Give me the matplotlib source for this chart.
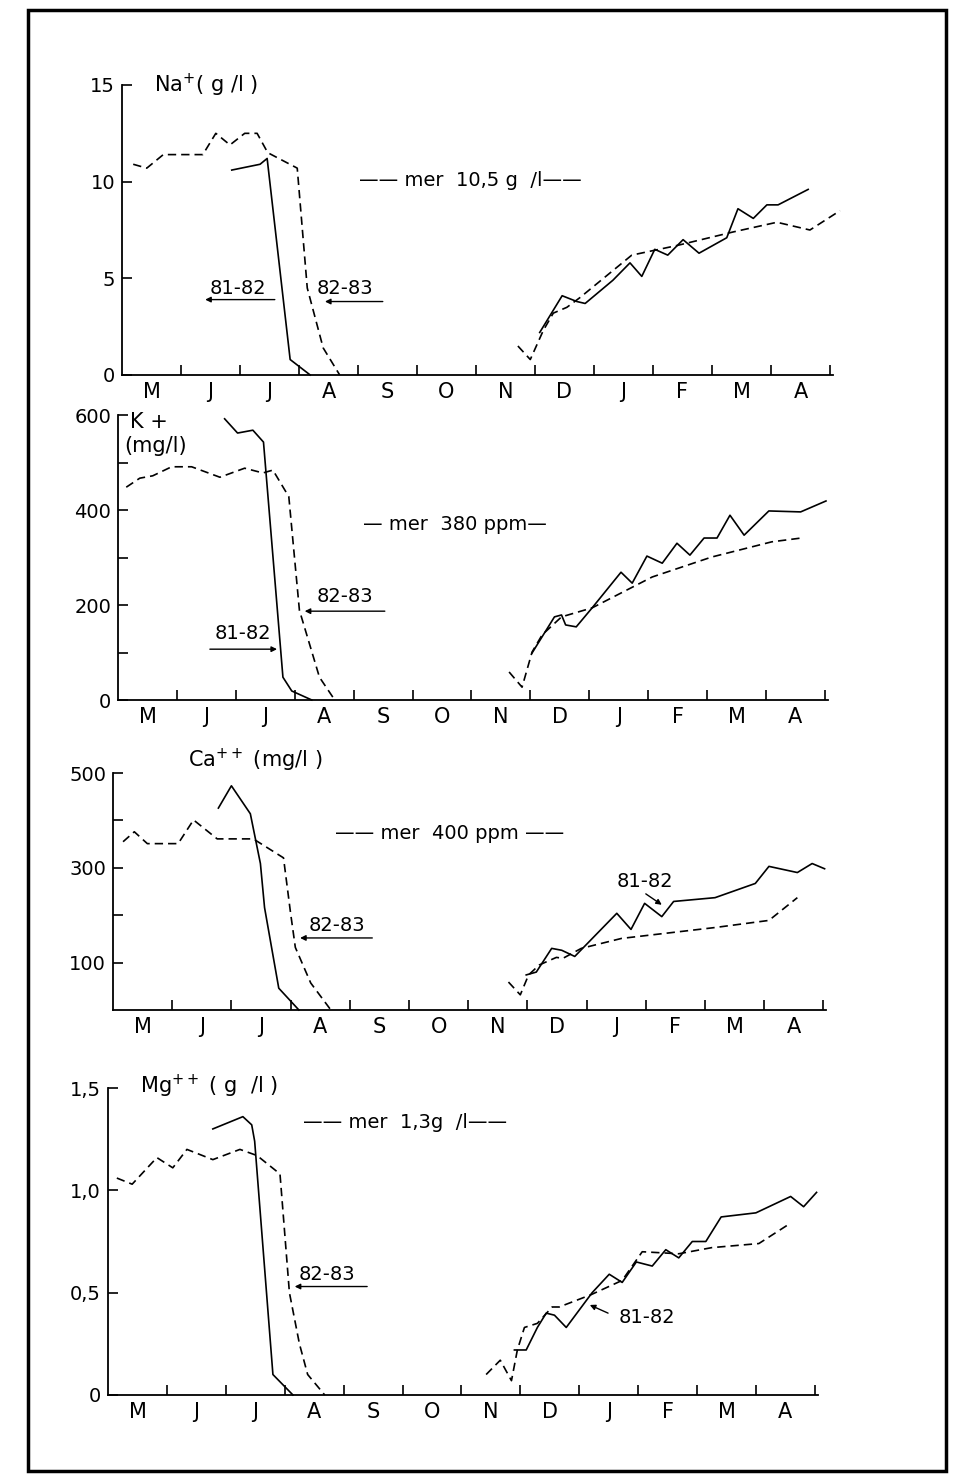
import numpy as np
import matplotlib
matplotlib.use("Agg")
import matplotlib.pyplot as plt
from matplotlib.patches import Rectangle

months = ["M", "J", "J", "A", "S", "O", "N", "D", "J", "F", "M", "A"]

# Na+ (g/l)
na_81_x = [1.86, 2.34, 2.46, 2.85, 3.19, np.nan,
           7.08, 7.46, 7.71, 7.85, 8.32, 8.61, 8.81, 9.03, 9.25, 9.51, 9.78,
           10.25, 10.44, 10.7, 10.93, 11.12, 11.63]
na_81_y = [10.6, 10.9, 11.2, 0.8, 0.0, np.nan,
           2.2, 4.1, 3.8, 3.7, 4.9, 5.8, 5.1, 6.5, 6.2, 7.0, 6.3,
           7.1, 8.6, 8.1, 8.8, 8.8, 9.6]
na_82_x = [0.19, 0.42, 0.70, 1.37, 1.59, 1.83, 2.08, 2.29, 2.47, 2.97, 3.14, 3.41, 3.69, np.nan,
           6.71, 6.92, 7.14, 7.31, 7.54, 7.76, 8.64, 9.41, 10.36, 11.1, 11.66, 12.17]
na_82_y = [10.9, 10.7, 11.4, 11.4, 12.5, 11.9, 12.5, 12.5, 11.5, 10.7, 4.5, 1.4, 0.0, np.nan,
           1.5, 0.8, 2.3, 3.2, 3.5, 4.0, 6.2, 6.7, 7.4, 7.9, 7.5, 8.5]

# K+ (mg/l)
k_81_x = [1.81, 2.03, 2.29, 2.47, 2.80, 2.95, 3.29, np.nan,
          7.03, 7.41, 7.53, 7.6, 7.78, 8.05, 8.54, 8.73, 8.98, 9.24, 9.49, 9.71,
          9.95, 10.17, 10.39, 10.63, 11.05, 11.59, 12.02]
k_81_y = [592, 562, 568, 543, 48, 19, 0, np.nan,
          99, 175, 179, 158, 154, 194, 269, 246, 303, 288, 330, 305,
          341, 341, 389, 347, 398, 396, 419]
k_82_x = [0.14, 0.37, 0.59, 0.91, 1.25, 1.73, 2.15, 2.46, 2.63, 2.90, 3.08, 3.42, 3.68, np.nan,
          6.64, 6.86, 7.03, 7.2, 7.53, 8.05, 9.07, 10.08, 11.1, 11.6]
k_82_y = [448, 467, 472, 491, 491, 469, 488, 478, 484, 428, 189, 48, 0, np.nan,
          59, 27, 101, 137, 175, 194, 259, 301, 333, 341]

# Ca++ (mg/l)
ca_81_x = [1.78, 2.0, 2.32, 2.49, 2.56, 2.8, 3.14, np.nan,
           6.98, 7.15, 7.41, 7.58, 7.8, 8.51, 8.75, 8.98, 9.27, 9.47, 10.17,
           10.85, 11.08, 11.56, 11.81, 12.02]
ca_81_y = [426, 473, 414, 309, 216, 46, 0, np.nan,
           74, 80, 130, 126, 113, 204, 170, 225, 197, 229, 237,
           267, 303, 290, 309, 298]
ca_82_x = [0.17, 0.36, 0.58, 1.1, 1.36, 1.76, 2.37, 2.88, 3.0, 3.08, 3.34, 3.68, np.nan,
           6.68, 6.88, 7.02, 7.2, 7.49, 7.6, 7.91, 8.59, 10.17, 11.08, 11.56]
ca_82_y = [355, 376, 351, 351, 401, 361, 361, 321, 204, 132, 57, 0, np.nan,
           59, 32, 74, 95, 111, 109, 130, 151, 174, 189, 237]

# Mg++ (g/l)
mg_81_x = [1.78, 2.29, 2.44, 2.49, 2.80, 3.14, np.nan,
           6.9, 7.1, 7.29, 7.44, 7.58, 7.78, 8.22, 8.51, 8.73, 8.97, 9.24, 9.47,
           9.69, 9.92, 10.15, 10.41, 11.0, 11.59, 11.81, 12.03]
mg_81_y = [1.30, 1.36, 1.32, 1.24, 0.10, 0.0, np.nan,
           0.22, 0.22, 0.33, 0.40, 0.39, 0.33, 0.50, 0.59, 0.55, 0.65, 0.63, 0.71,
           0.67, 0.75, 0.75, 0.87, 0.89, 0.97, 0.92, 0.99]
mg_82_x = [0.15, 0.41, 0.83, 1.10, 1.34, 1.78, 2.24, 2.53, 2.92, 2.97, 3.08, 3.25, 3.39, 3.68, np.nan,
           6.42, 6.66, 6.85, 6.95, 7.07, 7.29, 7.54, 7.66, 8.2, 8.73, 9.07, 9.69,
           10.25, 11.05, 11.59]
mg_82_y = [1.06, 1.03, 1.16, 1.11, 1.20, 1.15, 1.20, 1.17, 1.08, 0.9, 0.50, 0.25, 0.10, 0.0, np.nan,
           0.10, 0.17, 0.07, 0.22, 0.33, 0.35, 0.43, 0.43, 0.49, 0.56, 0.70, 0.69,
           0.72, 0.74, 0.84]

W, H = 961, 1480
fig = plt.figure(figsize=(W / 100, H / 100), dpi=100)
fig.patch.set_facecolor("white")

# cadre autour de la figure
fig.patches.append(Rectangle((28 / W, 1 - 1471 / H), (946 - 28) / W, (1471 - 10) / H,
                             transform=fig.transFigure, fill=False, lw=2.5, color="black"))

XMAX = 12.3
FS = 14


def panneau(x0, pxm, y0, ytop, ymax):
    # x0, y0 : origine en pixels ; pxm : pixels par mois ; ytop : pixel de ymax
    ax = fig.add_axes([x0 / W, 1 - y0 / H, XMAX * pxm / W, (y0 - ytop) / H])
    ax.set_xlim(0, XMAX)
    ax.set_ylim(0, ymax)
    ax.spines["top"].set_visible(False)
    ax.spines["right"].set_visible(False)
    ax.spines["bottom"].set_bounds(0, 12.05)
    for s in ("left", "bottom"):
        ax.spines[s].set_linewidth(1.3)
    ax.set_xticks(range(1, 13))
    ax.set_xticklabels([])
    ax.set_xticks(np.arange(0.5, 12, 1), minor=True)
    ax.set_xticklabels(months, minor=True, fontsize=15)
    ax.tick_params(axis="x", which="major", direction="in", length=7, width=1.2)
    ax.tick_params(axis="x", which="minor", length=0, pad=5)
    ax.tick_params(axis="y", which="both", direction="in", length=7, width=1.2, labelsize=FS, pad=5)
    return ax


def courbes(ax, xs, ys, xd, yd):
    ax.plot(xs, ys, color="black", lw=1.2, clip_on=False)
    ax.plot(xd, yd, color="black", lw=1.2, ls=(0, (5, 3)), clip_on=False)


def fleche(ax, x1, x2, y1, y2=None):
    if y2 is None:
        y2 = y1
    ax.annotate("", xy=(x2, y2), xytext=(x1, y1),
                arrowprops=dict(arrowstyle="-|>", color="black", lw=1.0,
                                mutation_scale=8, shrinkA=0, shrinkB=0))


# ---- Na+
ax1 = panneau(122, 59, 375, 85, 15)
courbes(ax1, na_81_x, na_81_y, na_82_x, na_82_y)
ax1.set_yticks([0, 5, 10, 15])
ax1.set_yticklabels(["0", "5", "10", "15"])
ax1.text(0.55, 15, "Na$^{+}$( g /l )", fontsize=15, va="center", ha="left")
ax1.text(5.9, 10.05, "—— mer  10,5 g  /l——", fontsize=FS, ha="center", va="center")
ax1.text(1.97, 4.5, "81-82", fontsize=FS, ha="center", va="center")
fleche(ax1, 2.59, 1.41, 3.9)
ax1.text(3.78, 4.5, "82-83", fontsize=FS, ha="center", va="center")
fleche(ax1, 4.42, 3.44, 3.8)

# ---- K+
ax2 = panneau(118, 58.9, 700, 415, 600)
courbes(ax2, k_81_x, k_81_y, k_82_x, k_82_y)
ax2.set_yticks([0, 200, 400, 600])
ax2.set_yticklabels(["0", "200", "400", "600"])
ax2.set_yticks([100, 300, 500], minor=True)
ax2.text(0.2, 585, "K +", fontsize=15, va="center", ha="left")
ax2.text(0.1, 535, "(mg/l)", fontsize=15, va="center", ha="left")
ax2.text(5.72, 370, "— mer  380 ppm—", fontsize=FS, ha="center", va="center")
ax2.text(3.85, 218, "82-83", fontsize=FS, ha="center", va="center")
fleche(ax2, 4.53, 3.17, 187)
ax2.text(2.12, 140, "81-82", fontsize=FS, ha="center", va="center")
fleche(ax2, 1.56, 2.7, 107)

# ---- Ca++
ax3 = panneau(113, 59.2, 1010, 773, 500)
courbes(ax3, ca_81_x, ca_81_y, ca_82_x, ca_82_y)
ax3.set_yticks([100, 300, 500])
ax3.set_yticklabels(["100", "300", "500"])
ax3.set_yticks([200, 400], minor=True)
ax3.text(2.4, 527, "Ca$^{++}$ (mg/l )", fontsize=15, ha="center", va="center")
ax3.text(5.69, 373, "—— mer  400 ppm ——", fontsize=FS, ha="center", va="center")
ax3.text(3.78, 178, "82-83", fontsize=FS, ha="center", va="center")
fleche(ax3, 4.38, 3.16, 152)
ax3.text(8.99, 272, "81-82", fontsize=FS, ha="center", va="center")
fleche(ax3, 9.0, 9.27, 245, 222)

# ---- Mg++
ax4 = panneau(108, 58.9, 1395, 1088, 1.5)
courbes(ax4, mg_81_x, mg_81_y, mg_82_x, mg_82_y)
ax4.set_yticks([0, 0.5, 1.0, 1.5])
ax4.set_yticklabels(["0", "0,5", "1,0", "1,5"])
ax4.text(0.55, 1.51, "Mg$^{++}$ ( g  /l )", fontsize=15, va="center", ha="left")
ax4.text(5.04, 1.33, "—— mer  1,3g  /l——", fontsize=FS, ha="center", va="center")
ax4.text(3.72, 0.59, "82-83", fontsize=FS, ha="center", va="center")
fleche(ax4, 4.4, 3.17, 0.53)
ax4.text(9.15, 0.38, "81-82", fontsize=FS, ha="center", va="center")
fleche(ax4, 8.49, 8.18, 0.40, 0.44)

fig.savefig("out.png", dpi=100)
